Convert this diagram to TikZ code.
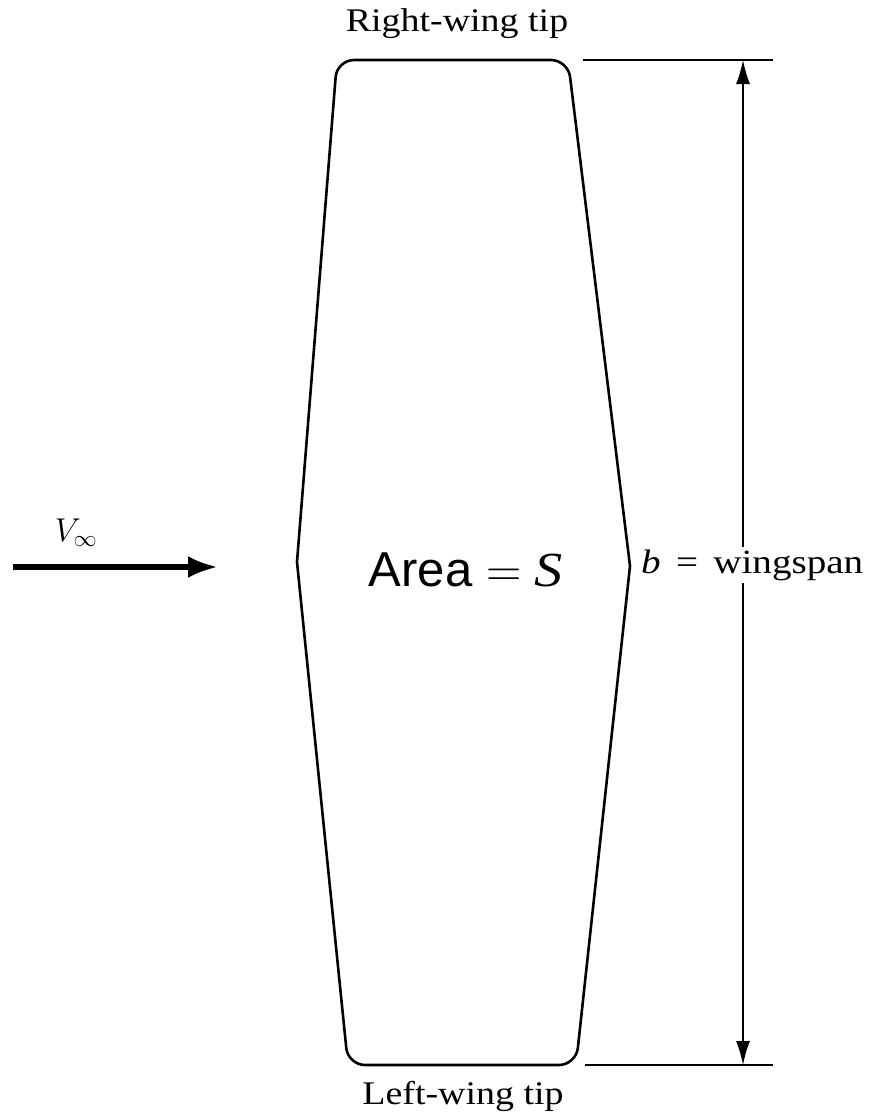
\documentclass[tikz,border=0pt]{standalone}
\usepackage{fix-cm}
\usepackage{fontspec}
\setmainfont{Liberation Serif}[FakeStretch=1.15]
\newfontfamily\areafont{Liberation Sans}
\usepackage{tikz}
\usetikzlibrary{positioning,arrows.meta}

\begin{document}
\begin{tikzpicture}[x=1pt,y=-1pt,
  every node/.style={inner sep=0pt,font=\fontsize{33}{38}\selectfont},
  wing/.style={line width=2.6pt,rounded corners=17pt,line cap=round},
  extline/.style={line width=1.4pt},
  dimline/.style={line width=1.4pt,{Latex[length=24pt,width=14pt]}-{Latex[length=24pt,width=14pt]}},
  flow/.style={line width=5.5pt,-{Latex[length=30pt,width=22pt]}}]
  \useasboundingbox (0,0) rectangle (872,1117);
  % planform outline, tips rounded, kinks at mid-span
  \draw[wing] (297,562) -- (337,60) -- (568,60) -- (630,566);
  \draw[wing] (630,566) -- (576,1065) -- (348,1065) -- (297,562);
  \node (rtip) at (457,24) {Right-wing tip};
  \node (ltip) at (463,1096) {Left-wing tip};
  \node[font=\areafont\fontsize{49}{54}\selectfont] (area) at (466,570) {Area $=$ {\rmfamily\itshape S}};
  % span dimension
  \coordinate (extTa) at (583,60);  \coordinate (extTb) at (773,60);
  \coordinate (extBa) at (585,1065); \coordinate (extBb) at (773,1065);
  \draw[extline] (extTa) -- (extTb);
  \draw[extline] (extBa) -- (extBb);
  \coordinate (spanT) at (743,60);
  \coordinate (spanB) at (743,1065);
  \draw[dimline] (spanT) -- (spanB);
  \node[fill=white,inner sep=3pt,anchor=west,font=\fontsize{34}{38}\selectfont] (span) at (638,565) {\textit{b}\hspace{0.45em}=\hspace{0.45em}wingspan};
  % free stream
  \coordinate (flowS) at (13,567);
  \coordinate (flowE) at (218,567);
  \draw[flow] (flowS) -- (flowE);
  \node (vinf) at (76,533) {$V_\infty$};
\end{tikzpicture}
\end{document}
